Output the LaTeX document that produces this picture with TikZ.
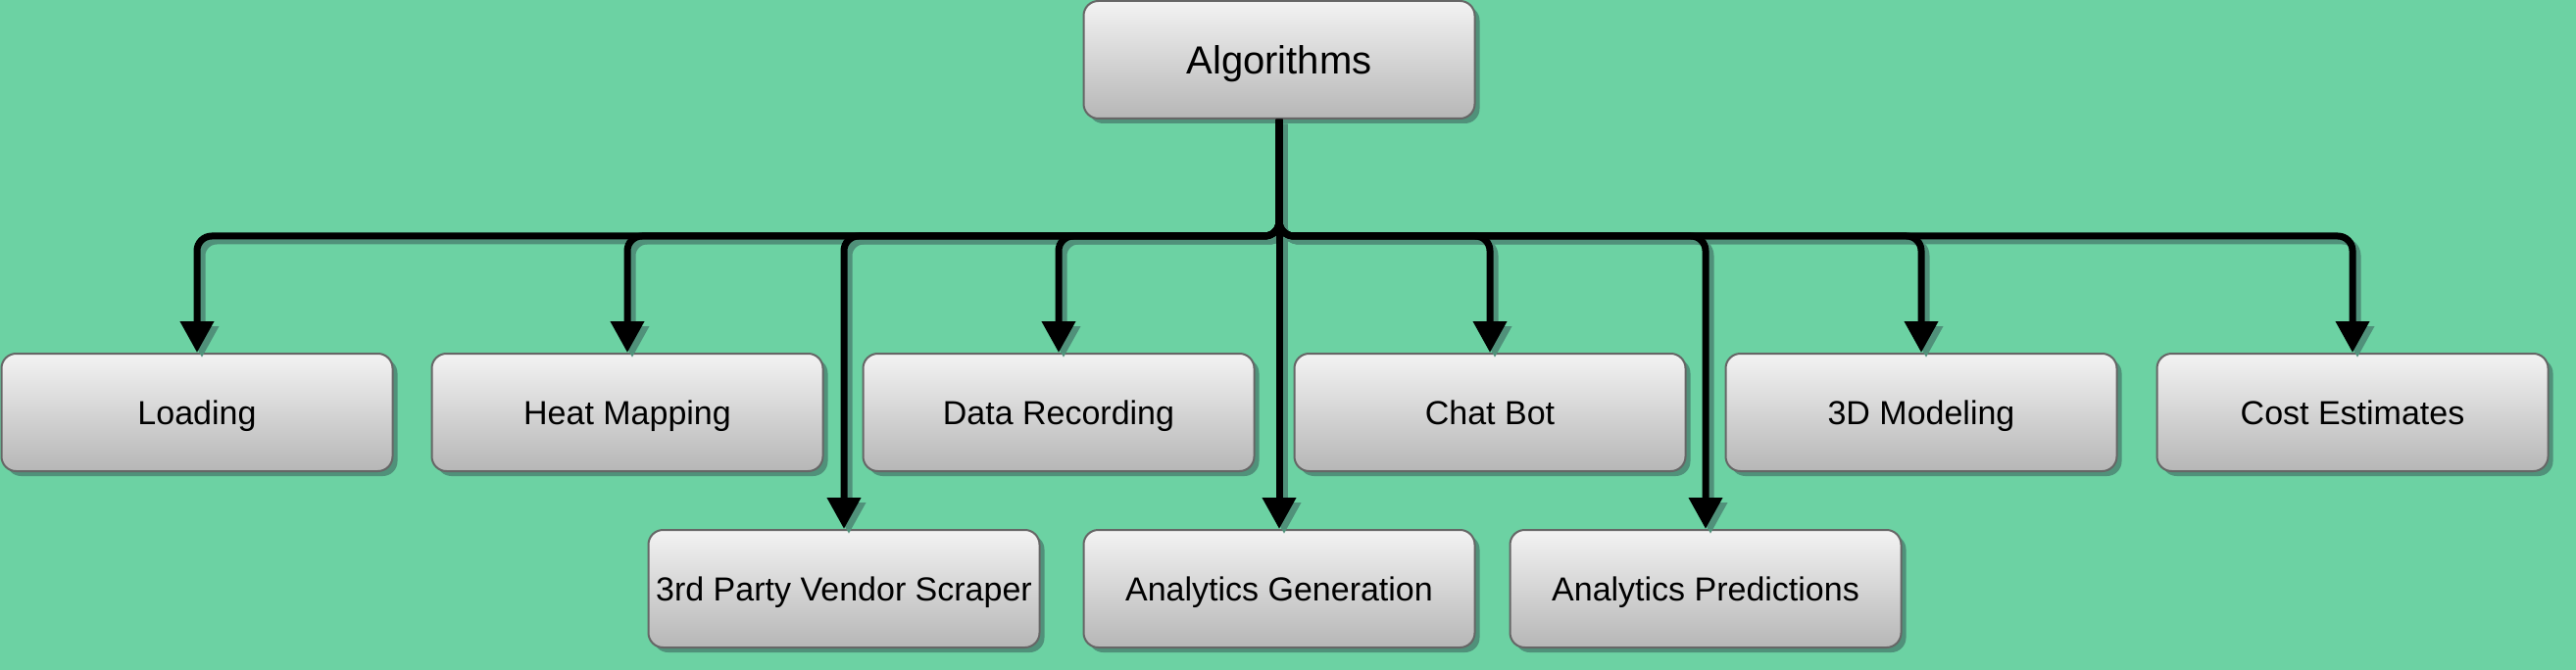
\documentclass[tikz,border=0pt]{standalone}
\usepackage{fontspec}
\setmainfont{Liberation Sans}
\usetikzlibrary{arrows.meta,shadows}
\definecolor{bg}{RGB}{108,210,163}
\definecolor{boxtop}{RGB}{243,243,243}
\definecolor{boxbot}{RGB}{182,182,182}
\definecolor{boxline}{RGB}{102,102,102}
\definecolor{shad}{RGB}{80,145,122}
\begin{document}
\begin{tikzpicture}[x=0.5pt,y=-0.5pt,
  box/.style={rectangle, rounded corners=7.5pt, draw=boxline, line width=1pt,
    top color=boxtop, bottom color=boxbot, minimum width=199.5pt, minimum height=60pt,
    inner sep=0pt, font=\fontsize{17}{20}\selectfont, text height=12.2pt, text depth=-2pt,
    drop shadow={shadow xshift=2.5pt, shadow yshift=-2.5pt, fill=shad, opacity=1}},
  rootbox/.style={box, font=\fontsize{20}{24}\selectfont, text height=14.3pt, text depth=-2.5pt},
  conn/.style={line width=3.5pt, rounded corners=7.5pt, -{Triangle[width=16.5pt,length=16pt]}},
  connshadow/.style={conn, draw=shad, transform canvas={xshift=2.5pt,yshift=-2.5pt}}
]
\fill[bg] (0,0) rectangle (2628,684);
\useasboundingbox (0,0) rectangle (2628,684);

\node[rootbox] (alg) at (1305,61) {Algorithms};
\node[box] (load) at (201,421) {Loading};
\node[box] (heat) at (640,421) {Heat Mapping};
\node[box] (data) at (1080,421) {Data Recording};
\node[box] (chat) at (1520,421) {Chat Bot};
\node[box] (model) at (1960,421) {3D Modeling};
\node[box] (cost) at (2400,421) {Cost Estimates};
\node[box] (vend) at (861,601) {3rd Party Vendor Scraper};
\node[box] (gen) at (1305,601) {Analytics Generation};
\node[box] (pred) at (1740,601) {Analytics Predictions};

\coordinate (bus) at (0,241);

\foreach \c in {load,heat,vend,data,chat,pred,model,cost}
  \draw[connshadow] (alg.south) -- (alg.south |- bus) -- (\c.north |- bus) -- (\c.north);
\draw[connshadow] (alg.south) -- (gen.north);

\foreach \c in {load,heat,vend,data,chat,pred,model,cost}
  \draw[conn] (alg.south) -- (alg.south |- bus) -- (\c.north |- bus) -- (\c.north);
\draw[conn] (alg.south) -- (gen.north);
\end{tikzpicture}
\end{document}
